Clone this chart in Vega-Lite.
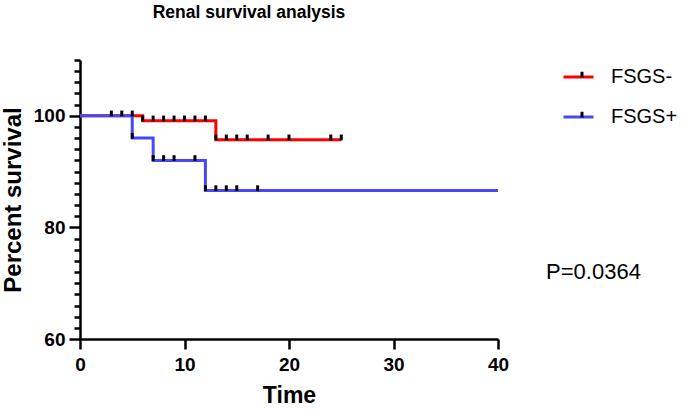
{
  "$schema": "https://vega.github.io/schema/vega-lite/v6.json",
  "width": 418,
  "height": 279,
  "autosize": "none",
  "padding": {"left": 80, "top": 60, "right": 187, "bottom": 70},
  "background": "white",
  "config": {"view": {"stroke": null}, "font": "Liberation Sans"},
  "title": {"text": "Renal survival analysis", "fontSize": 17.5, "fontWeight": "bold", "font": "Liberation Sans", "color": "black", "anchor": "middle", "frame": "group", "baseline": "alphabetic", "dx": -40, "offset": 16},
  "datasets": {
    "curves": [
      {"group": "FSGS-", "time": 0, "survival": 100},
      {"group": "FSGS-", "time": 6, "survival": 99.1},
      {"group": "FSGS-", "time": 13, "survival": 95.7},
      {"group": "FSGS-", "time": 25, "survival": 95.7},
      {"group": "FSGS+", "time": 0, "survival": 100},
      {"group": "FSGS+", "time": 5, "survival": 96},
      {"group": "FSGS+", "time": 7, "survival": 92},
      {"group": "FSGS+", "time": 12, "survival": 86.6},
      {"group": "FSGS+", "time": 40, "survival": 86.6}
    ],
    "censored": [
      {"group": "FSGS-", "time": 3, "survival": 100},
      {"group": "FSGS-", "time": 4, "survival": 100},
      {"group": "FSGS-", "time": 5, "survival": 100},
      {"group": "FSGS-", "time": 6, "survival": 99.1},
      {"group": "FSGS-", "time": 7, "survival": 99.1},
      {"group": "FSGS-", "time": 8, "survival": 99.1},
      {"group": "FSGS-", "time": 9, "survival": 99.1},
      {"group": "FSGS-", "time": 10, "survival": 99.1},
      {"group": "FSGS-", "time": 11, "survival": 99.1},
      {"group": "FSGS-", "time": 12, "survival": 99.1},
      {"group": "FSGS-", "time": 13, "survival": 95.7},
      {"group": "FSGS-", "time": 14, "survival": 95.7},
      {"group": "FSGS-", "time": 15, "survival": 95.7},
      {"group": "FSGS-", "time": 16, "survival": 95.7},
      {"group": "FSGS-", "time": 18, "survival": 95.7},
      {"group": "FSGS-", "time": 20, "survival": 95.7},
      {"group": "FSGS-", "time": 24, "survival": 95.7},
      {"group": "FSGS-", "time": 25, "survival": 95.7},
      {"group": "FSGS+", "time": 5, "survival": 96},
      {"group": "FSGS+", "time": 7, "survival": 92},
      {"group": "FSGS+", "time": 8, "survival": 92},
      {"group": "FSGS+", "time": 9, "survival": 92},
      {"group": "FSGS+", "time": 11, "survival": 92},
      {"group": "FSGS+", "time": 12, "survival": 86.6},
      {"group": "FSGS+", "time": 13, "survival": 86.6},
      {"group": "FSGS+", "time": 14, "survival": 86.6},
      {"group": "FSGS+", "time": 15, "survival": 86.6},
      {"group": "FSGS+", "time": 17, "survival": 86.6}
    ],
    "note": [{"label": "P=0.0364", "time": 44.6, "survival": 72}]
  },
  "encoding": {
    "x": {"field": "time", "type": "quantitative", "scale": {"domain": [0, 40], "nice": false},
      "axis": {"values": [0, 10, 20, 30, 40], "grid": false, "domainColor": "black", "domainWidth": 2.5, "tickColor": "black", "tickWidth": 2.5, "tickSize": 10, "labelFont": "Liberation Sans", "labelFontSize": 19, "labelFontWeight": "bold", "labelColor": "black", "labelPadding": 6, "labelFlush": false, "labelOverlap": false, "title": "Time", "titleFont": "Liberation Sans", "titleFontSize": 23, "titleFontWeight": "bold", "titleColor": "black", "titlePadding": 10}},
    "y": {"field": "survival", "type": "quantitative", "scale": {"domain": [60, 110], "nice": false, "zero": false},
      "axis": {"values": [60, 62, 64, 66, 68, 70, 72, 74, 76, 78, 80, 82, 84, 86, 88, 90, 92, 94, 96, 98, 100, 102, 104, 106, 108, 110], "labelExpr": "datum.value % 20 === 0 ? datum.label : ''", "grid": false, "domainColor": "black", "domainWidth": 2.5, "tickColor": "black", "tickWidth": 2.5, "tickSize": {"condition": {"test": "datum.value % 20 === 0", "value": 11}, "value": 6}, "labelFont": "Liberation Sans", "labelFontSize": 19, "labelFontWeight": "bold", "labelColor": "black", "labelPadding": 4, "labelFlush": false, "labelOverlap": false, "title": "Percent survival", "titleFont": "Liberation Sans", "titleFontSize": 24, "titleFontWeight": "bold", "titleColor": "black", "titlePadding": 8}}
  },
  "layer": [
    {
      "data": {"name": "curves"},
      "mark": {"type": "line", "interpolate": "step-after", "strokeWidth": 3, "strokeCap": "butt"},
      "encoding": {
        "color": {"field": "group", "type": "nominal", "scale": {"domain": ["FSGS-", "FSGS+"], "range": ["#FF0000", "#4848FA"]},
          "legend": {"title": null, "orient": "none", "legendX": 482, "legendY": 2, "symbolType": "stroke", "symbolSize": 900, "symbolStrokeWidth": 3, "clipHeight": 30, "rowPadding": 10, "padding": 0, "labelFont": "Liberation Sans", "labelFontSize": 20, "labelColor": "black", "labelOffset": 16, "labelLimit": 200}}
      }
    },
    {
      "data": {"name": "censored"},
      "mark": {"type": "point", "filled": true, "color": "black", "opacity": 1, "size": 100},
      "encoding": {
        "shape": {"field": "group", "type": "nominal", "sort": "descending", "scale": {"range": ["M-0.3,-1.05H0.3V0.1H-0.3Z", "M-0.3,-1.05H0.3V0.1H-0.3Z"]},
          "legend": {"title": null, "orient": "none", "legendX": 492, "legendY": 2, "symbolSize": 100, "symbolFillColor": "black", "symbolStrokeColor": "transparent", "symbolStrokeWidth": 0, "clipHeight": 30, "rowPadding": 10, "padding": 0, "labelFontSize": 20, "labelExpr": "''", "labelOffset": 16}}
      }
    },
    {
      "data": {"name": "note"},
      "mark": {"type": "text", "align": "left", "baseline": "middle", "font": "Liberation Sans", "fontSize": 22, "fill": "black", "clip": false},
      "encoding": {
        "text": {"field": "label", "type": "nominal"}
      }
    }
  ]
}
